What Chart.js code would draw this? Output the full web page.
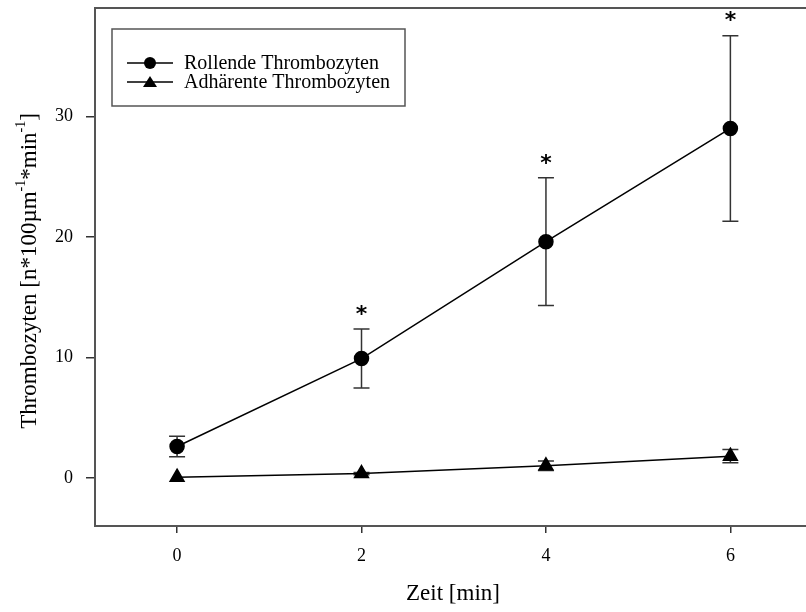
<!DOCTYPE html>
<html>
<head>
<meta charset="utf-8">
<script src="https://cdn.jsdelivr.net/npm/chart.js@4/dist/chart.umd.min.js"></script>
<style>
  html, body { margin: 0; padding: 0; background: #fff; }
  #wrap { width: 806px; height: 612px; }
</style>
</head>
<body>
<div id="wrap"><canvas id="grafik" width="806" height="612"></canvas></div>
<script>
// Werte
const zeit = [0, 2, 4, 6];
const rollend = [2.6, 9.9, 19.6, 29.0];
const rollendFehler = [0.85, 2.45, 5.3, 7.7];
const adhaerent = [0.05, 0.35, 1.0, 1.8];
const adhaerentFehler = [0, 0.1, 0.4, 0.55];
const signifikant = [false, true, true, true];
const xTicks = [0, 2, 4, 6];
const yTicks = [0, 10, 20, 30];

const schrift = "'Liberation Serif', 'Times New Roman', serif";

function punkte(werte) {
    return zeit.map((x, i) => ({ x: x, y: werte[i] }));
}

// Fehlerbalken, Sterne, obere Rahmenlinie
const fehlerPlugin = {
    id: 'fehler',
    beforeDatasetsDraw(chart) {
        const ctx = chart.ctx;
        const xs = chart.scales.x, ys = chart.scales.y;
        const reihen = [[rollend, rollendFehler], [adhaerent, adhaerentFehler]];
        ctx.save();
        ctx.strokeStyle = '#333';
        ctx.lineWidth = 1.5;
        reihen.forEach(r => {
            zeit.forEach((t, i) => {
                if (r[1][i] <= 0) return;
                const px = xs.getPixelForValue(t);
                const oben = ys.getPixelForValue(r[0][i] + r[1][i]);
                const unten = ys.getPixelForValue(r[0][i] - r[1][i]);
                ctx.beginPath();
                ctx.moveTo(px, oben); ctx.lineTo(px, unten);
                ctx.moveTo(px - 8, oben); ctx.lineTo(px + 8, oben);
                ctx.moveTo(px - 8, unten); ctx.lineTo(px + 8, unten);
                ctx.stroke();
            });
        });
        ctx.restore();
    },
    afterDraw(chart) {
        const ctx = chart.ctx;
        const a = chart.chartArea;
        const xs = chart.scales.x, ys = chart.scales.y;
        ctx.save();
        // Sterne
        ctx.fillStyle = '#000';
        ctx.font = "bold 22px 'DejaVu Sans', sans-serif";
        ctx.textAlign = 'center';
        ctx.textBaseline = 'middle';
        zeit.forEach((t, i) => {
            if (!signifikant[i]) return;
            const px = xs.getPixelForValue(t);
            const py = ys.getPixelForValue(rollend[i] + rollendFehler[i]);
            ctx.fillText('*', px, py - 14);
        });
        // obere Linie
        ctx.strokeStyle = '#555';
        ctx.lineWidth = 2;
        ctx.beginPath();
        ctx.moveTo(a.left - 1, a.top);
        ctx.lineTo(a.right, a.top);
        ctx.stroke();

        // Legende
        ctx.strokeStyle = '#555';
        ctx.lineWidth = 1.5;
        ctx.strokeRect(112, 29, 293, 77);
        ctx.font = '20px ' + schrift;
        ctx.textAlign = 'left';
        ctx.textBaseline = 'middle';
        chart.data.datasets.forEach((ds, i) => {
            const y = 63 + i * 19;
            ctx.strokeStyle = '#000';
            ctx.lineWidth = 1.5;
            ctx.beginPath();
            ctx.moveTo(127, y); ctx.lineTo(173, y);
            ctx.stroke();
            ctx.fillStyle = '#000';
            ctx.beginPath();
            if (ds.pointStyle === 'triangle') {
                ctx.moveTo(150, y - 6); ctx.lineTo(157, y + 5); ctx.lineTo(143, y + 5);
                ctx.closePath();
            } else {
                ctx.arc(150, y, 6, 0, Math.PI * 2);
            }
            ctx.fill();
            ctx.fillText(ds.label, 184, y + 1);
        });

        // Achsentitel
        ctx.font = '23px ' + schrift;
        ctx.textAlign = 'center';
        ctx.textBaseline = 'middle';
        ctx.fillText('Zeit [min]', 453, 594);

        // y-Titel mit Hochstellungen
        const teile = [
            ['Thrombozyten [n*100µm', false],
            ['-1', true],
            ['*min', false],
            ['-1', true],
            [']', false]
        ];
        const gross = '23px ' + schrift, klein = '14px ' + schrift;
        let breite = 0;
        teile.forEach(t => { ctx.font = t[1] ? klein : gross; breite += ctx.measureText(t[0]).width; });
        ctx.translate(30, 271);
        ctx.rotate(-Math.PI / 2);
        ctx.textAlign = 'left';
        let x = -breite / 2;
        teile.forEach(t => {
            ctx.font = t[1] ? klein : gross;
            ctx.fillText(t[0], x, t[1] ? -9 : 0);
            x += ctx.measureText(t[0]).width;
        });
        ctx.restore();
    }
};

new Chart(document.getElementById('grafik'), {
    type: 'scatter',
    data: {
        datasets: [
            {
                label: 'Rollende Thrombozyten',
                data: punkte(rollend),
                showLine: true,
                borderColor: '#000',
                backgroundColor: '#000',
                borderWidth: 1.5,
                pointStyle: 'circle',
                pointRadius: 7,
                pointHoverRadius: 7
            },
            {
                label: 'Adhärente Thrombozyten',
                data: punkte(adhaerent),
                showLine: true,
                borderColor: '#000',
                backgroundColor: '#000',
                borderWidth: 1.5,
                pointStyle: 'triangle',
                pointRadius: 8,
                pointHoverRadius: 8
            }
        ]
    },
    options: {
        responsive: false,
        animation: false,
        layout: { autoPadding: false, padding: { top: 8, right: 0, left: 0, bottom: 0 } },
        plugins: {
            legend: { display: false },
            tooltip: { enabled: false }
        },
        scales: {
            x: {
                type: 'linear',
                min: -0.89,
                max: 6.82,
                afterBuildTicks: s => { s.ticks = xTicks.map(v => ({ value: v })); },
                afterFit: s => { s.height = 86; s.paddingLeft = 0; s.paddingRight = 0; },
                grid: { drawOnChartArea: false, drawTicks: true, tickLength: 7, color: '#333', lineWidth: 1.5 },
                border: { display: true, color: '#555', width: 2 },
                ticks: { color: '#000', padding: 12, font: { family: schrift, size: 18 } }
            },
            y: {
                min: -4,
                max: 39,
                afterBuildTicks: s => { s.ticks = yTicks.map(v => ({ value: v })); },
                afterFit: s => { s.width = 95; s.paddingTop = 0; s.paddingBottom = 0; },
                grid: { drawOnChartArea: false, drawTicks: true, tickLength: 9, color: '#333', lineWidth: 1.5 },
                border: { display: true, color: '#555', width: 2 },
                ticks: { color: '#000', padding: 13, font: { family: schrift, size: 18 } }
            }
        }
    },
    plugins: [fehlerPlugin]
});
</script>
</body>
</html>
